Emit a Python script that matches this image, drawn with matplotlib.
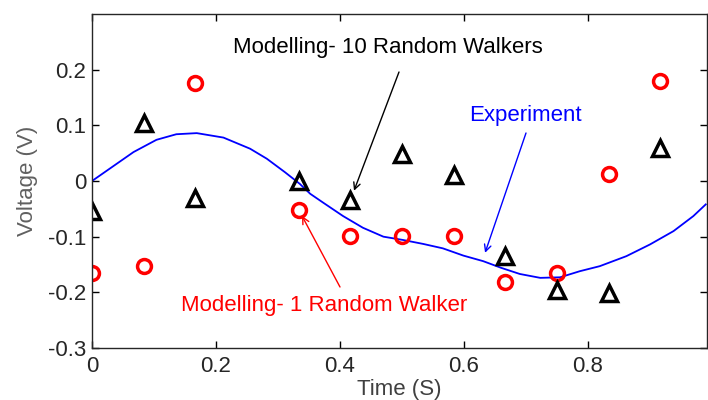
import numpy as np
import matplotlib
matplotlib.use('Agg')
import matplotlib.pyplot as plt

plt.rcParams['font.family'] = ['Liberation Sans', 'DejaVu Sans']

# Experiment trace
exp_t = [0.0, 0.067, 0.104, 0.136, 0.169, 0.212, 0.255, 0.282, 0.311, 0.335,
         0.352, 0.373, 0.405, 0.437, 0.470, 0.502, 0.534, 0.566, 0.599, 0.631,
         0.660, 0.690, 0.723, 0.755, 0.787, 0.819, 0.862, 0.900, 0.938, 0.970, 0.99]
exp_v = [0.0, 0.052, 0.074, 0.084, 0.086, 0.078, 0.058, 0.040, 0.016, -0.005,
         -0.023, -0.039, -0.063, -0.084, -0.100, -0.106, -0.113, -0.121, -0.134, -0.144,
         -0.156, -0.167, -0.174, -0.173, -0.162, -0.153, -0.135, -0.114, -0.090, -0.063, -0.042]

# Modelling with one random walker (red circles)
one_t = [0, 1/12, 2/12, 4/12, 5/12, 6/12, 7/12, 8/12, 9/12, 10/12, 11/12]
one_v = [-0.165, -0.153, 0.176, -0.052, -0.099, -0.099, -0.098, -0.182, -0.165, 0.012, 0.180]

# Modelling with ten random walkers (black triangles)
ten_t = [0, 1/12, 2/12, 4/12, 5/12, 6/12, 7/12, 8/12, 9/12, 10/12, 11/12]
ten_v = [-0.054, 0.105, -0.030, 0.0, -0.034, 0.049, 0.010, -0.135, -0.196, -0.201, 0.060]

fig = plt.figure(figsize=(7.08, 4.0), dpi=100)
ax = fig.add_axes([92/708, 52/400, 615/708, 334/400])

ax.plot(exp_t, exp_v, color='#0000ff', lw=1.3)
ax.plot(one_t, one_v, 'o', ms=10, mfc='none', mec='#ff0000', mew=2.5)
ax.plot(ten_t, ten_v, '^', ms=11.5, mfc='none', mec='black', mew=2.5)

ax.set_xlim(0, 0.992)
ax.set_ylim(-0.3, 0.3)
ax.set_xticks([0, 0.2, 0.4, 0.6, 0.8])
ax.set_xticklabels(['0', '0.2', '0.4', '0.6', '0.8'])
ax.set_yticks([-0.3, -0.2, -0.1, 0, 0.1, 0.2])
ax.set_yticklabels(['-0.3', '-0.2', '-0.1', '0', '0.1', '0.2'])
ax.tick_params(direction='in', length=5, width=1, top=True, right=True,
               labelsize=16, labelcolor='#262626')
ax.tick_params(axis='x', pad=6)
ax.tick_params(axis='y', pad=4)
for s in ax.spines.values():
    s.set_linewidth(1)
    s.set_color('#262626')

ax.set_xlabel('Time (S)', fontsize=16, color='#404040', labelpad=1)
ax.set_ylabel('Voltage (V)', fontsize=16, color='#606060', labelpad=7)

# labels
fig.text(388, 352, 'Modelling- 10 Random Walkers', transform=None, ha='center', va='center',
         fontsize=16, color='black')
fig.text(525, 285, 'Experiment', transform=None, ha='center', va='center',
         fontsize=16, color='#0000ff')
fig.text(324, 94, 'Modelling- 1 Random Walker', transform=None, ha='center', va='center',
         fontsize=16, color='#ff0000')

# arrows
arrow_kw = dict(arrowstyle='->', lw=1, shrinkA=0, shrinkB=0, mutation_scale=12)
ax.annotate('', xy=(0.4226, -0.0175), xycoords='data', xytext=(399, 328),
            textcoords='figure pixels', arrowprops=dict(color='black', **arrow_kw))
ax.annotate('', xy=(0.634, -0.129), xycoords='data', xytext=(526, 267),
            textcoords='figure pixels', arrowprops=dict(color='#0000ff', **arrow_kw))
ax.annotate('', xy=(0.3387, -0.0626), xycoords='data', xytext=(340, 113),
            textcoords='figure pixels', arrowprops=dict(color='#ff0000', **arrow_kw))

fig.savefig('out.png', dpi=100)
